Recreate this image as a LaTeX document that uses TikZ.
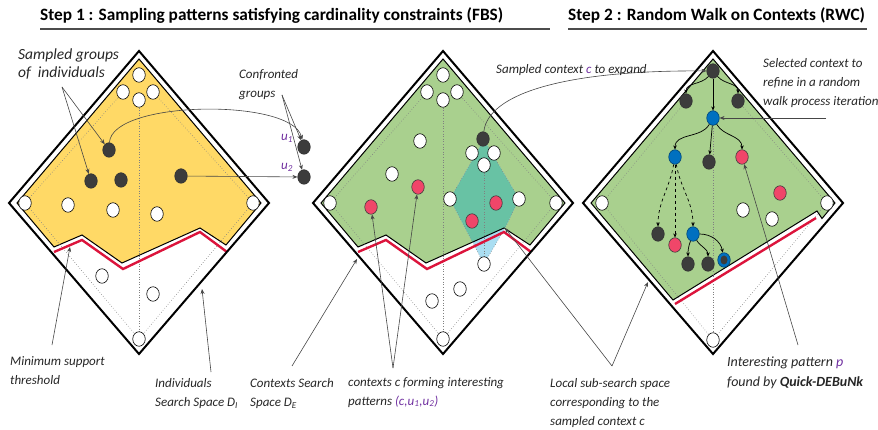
\documentclass[tikz,border=0pt]{standalone}
\usepackage{fontspec}
\setmainfont{Carlito}
\usetikzlibrary{shapes.geometric,arrows.meta}
\pgfdeclarelayer{bg}
\pgfdeclarelayer{mid}
\pgfsetlayers{bg,mid,main}
\definecolor{yel}{RGB}{255,217,102}
\definecolor{grn}{RGB}{169,208,142}
\definecolor{tealc}{RGB}{104,194,164}
\definecolor{lblue}{RGB}{170,222,242}
\definecolor{redl}{RGB}{220,20,60}
\definecolor{pnk}{RGB}{240,70,105}
\definecolor{blu}{RGB}{0,112,192}
\definecolor{drk}{RGB}{60,60,60}
\definecolor{purp}{RGB}{112,48,160}
\definecolor{arr}{RGB}{70,70,70}
\tikzset{
  nd/.style={ellipse,minimum width=12.5pt,minimum height=14.5pt,inner sep=0pt,line width=0.6pt},
  wc/.style={nd,draw=black,fill=white},
  dc/.style={nd,draw=black!80,fill=drk},
  pc/.style={nd,draw=drk,fill=pnk},
  bc/.style={nd,draw=blu!60!black,fill=blu},
  dmd/.style={draw=black,line width=2pt,line join=miter},
  region/.style={draw=black,line width=1pt,line join=miter},
  thr/.style={draw=redl,line width=2.4pt},
  dots/.style={draw=gray,dotted,line width=0.6pt},
  lbl/.style={font=\itshape\fontsize{13}{19}\selectfont,align=left,inner sep=0pt,anchor=north west,text=black!85},
  ttl/.style={font=\bfseries\fontsize{17.3}{20}\selectfont,inner sep=0pt,anchor=base west},
  uline/.style={draw=black!70,line width=1.6pt},
  lk/.style={-{Stealth[length=5pt,width=4pt]},draw=arr,line width=0.6pt},
  tarr/.style={-{Stealth[length=4pt,width=3.5pt]},draw=black,line width=0.7pt},
  tdash/.style={tarr,dashed},
}
\begin{document}
\begin{tikzpicture}[x=1pt,y=-1pt]
\useasboundingbox (0,0) rectangle (878,430);

\node[ttl] (t1) at (40,21) {Step 1 : Sampling patterns satisfying cardinality constraints (FBS)};
\node[ttl] (t2) at (568,21) {Step 2 : Random Walk on Contexts (RWC)};
\draw[uline] (40,29) -- (550,29);
\draw[uline] (568,29) -- (867,29);

% ================= diamond 1
\begin{scope}[shift={(139,0)}]
\begin{pgfonlayer}{bg}
  \filldraw[region,fill=yel] (0,59) -- (-122,203) -- (-85,247) -- (-57,235) -- (-17,263) -- (61,228) -- (87,245) -- (122,203) -- cycle;
\end{pgfonlayer}
\draw[thr] (-85,252) -- (-57,240) -- (-16,269) -- (61,232) -- (88,252);
\draw[dmd] (0,51) -- (-130,203) -- (0,354) -- (130,203) -- cycle;
\node[wc] (a0) at (0,75) {};
\node[wc] (a1) at (-16,92) {};
\node[wc] (a2) at (0,100) {};
\node[wc] (a3) at (14,92) {};
\node[wc] (aL) at (-114,203) {};
\node[wc] (aR) at (114,203) {};
\node[wc] (aB) at (0,339) {};
\node[wc] (a4) at (-71,205) {};
\node[wc] (a5) at (-26,210) {};
\node[wc] (a6) at (18,214) {};
\node[wc] (a7) at (-37,276) {};
\node[wc] (a8) at (14,294) {};
\node[dc] (ad1) at (-30,150) {};
\node[dc] (ad2) at (-48,181) {};
\node[dc] (ad3) at (-18,180) {};
\node[dc] (ad4) at (42,176) {};
\begin{pgfonlayer}{mid}
  \draw[dots] (aL) -- (a1);
  \draw[dots] (aR) -- (a3);
  \draw[dots] (a2) -- (aB);
  \draw[dots] (aL) -- (aB);
  \draw[dots] (aR) -- (aB);
\end{pgfonlayer}
\end{scope}

% confronted groups
\node[dc] (u1) at (304,147) {};
\node[dc] (u2) at (304,177) {};
\node[font=\itshape\fontsize{13}{15}\selectfont,text=purp,inner sep=0pt] (u1l) at (287,138) {u\textsubscript{1}};
\node[font=\itshape\fontsize{13}{15}\selectfont,text=purp,inner sep=0pt] (u2l) at (287,167) {u\textsubscript{2}};
\draw[lk] (ad1) .. controls (112,100) and (292,98) .. (u1);
\draw[lk] (ad4) -- (u2);

% ================= diamond 2
\begin{scope}[shift={(443,0)}]
\begin{pgfonlayer}{bg}
  \fill[grn] (0,59) -- (-122,203) -- (-85,247) -- (-57,235) -- (-17,263) -- (61,228) -- (87,245) -- (122,203) -- cycle;
  \fill[lblue] (41,140) -- (76,199) -- (62,228) -- (41,264) -- (7,199) -- cycle;
  \begin{scope}
    \clip (0,59) -- (-122,203) -- (-85,247) -- (-57,235) -- (-17,263) -- (61,228) -- (87,245) -- (122,203) -- cycle;
    \fill[tealc] (41,140) -- (76,199) -- (62,228) -- (41,264) -- (7,199) -- cycle;
  \end{scope}
  \draw[region] (0,59) -- (-122,203) -- (-85,247) -- (-57,235) -- (-17,263) -- (61,228) -- (87,245) -- (122,203) -- cycle;
\end{pgfonlayer}
\draw[thr] (-85,252) -- (-57,240) -- (-16,269) -- (61,232) -- (88,252);
\draw[dmd] (0,51) -- (-130,203) -- (0,354) -- (130,203) -- cycle;
\node[wc] (b0) at (0,75) {};
\node[wc] (b1) at (-16,92) {};
\node[wc] (b2) at (0,100) {};
\node[wc] (b3) at (14,92) {};
\node[wc] (bL) at (-113,203) {};
\node[wc] (bR) at (113,203) {};
\node[wc] (bB) at (0,339) {};
\node[wc] (b4) at (-23,141) {};
\node[wc] (b5) at (-51,174) {};
\node[pc] (bp1) at (-25,187) {};
\node[pc] (bp2) at (-72,207) {};
\node[wc] (b6) at (-11,301) {};
\node[wc] (b7) at (17,289) {};
\node[dc] (bdk) at (40,139) {};
\node[wc] (bt1) at (29,153) {};
\node[wc] (bt2) at (51,153) {};
\node[wc] (bt3) at (41,165) {};
\node[wc] (btl) at (7,199) {};
\node[wc] (btr) at (76,199) {};
\node[pc] (bp3) at (53,203) {};
\node[pc] (bp4) at (29,221) {};
\node[wc] (btb) at (41,264) {};
\coordinate (bcorner) at (62,228);
\begin{pgfonlayer}{mid}
  \draw[dots] (bL) -- (b1);
  \draw[dots] (bR) -- (b3);
  \draw[dots] (b2) -- (bB);
  \draw[dots] (bL) -- (bB);
  \draw[dots] (bR) -- (bB);
  \draw[dots] (41,140) -- (76,199) -- (62,228) -- (41,264) -- (7,199) -- cycle;
  \draw[dots] (bt3) -- (btb);
\end{pgfonlayer}
\end{scope}

% ================= diamond 3
\begin{scope}[shift={(713,0)}]
\begin{pgfonlayer}{bg}
  \filldraw[region,fill=grn] (0,59) -- (-122,203) -- (-40,300) -- (104,211) -- (109,218.5) -- (122,203) -- cycle;
\end{pgfonlayer}
\draw[thr] (-38,304) -- (103,218);
\draw[dmd] (0,51) -- (-130,203) -- (0,354) -- (130,203) -- cycle;
\node[dc] (ct) at (0,71) {};
\node[dc] (cdl) at (-27,101) {};
\node[dc] (cdr) at (25,101) {};
\node[bc] (cb1) at (0,118) {};
\node[bc] (cb2) at (-38,157) {};
\node[dc] (cdm) at (-4,162) {};
\node[pc] (cp1) at (29,157) {};
\node[pc] (cp2) at (67,193) {};
\node[wc] (cw1) at (30,210) {};
\node[wc] (cw2) at (59,219) {};
\node[wc] (cL) at (-111,203) {};
\node[wc] (cR) at (114,203) {};
\node[wc] (cB) at (0,340) {};
\node[dc] (cd3) at (-55,234) {};
\node[pc] (cp3) at (-38,245) {};
\node[bc] (cb3) at (-20,234) {};
\node[dc] (cd4) at (-25,264) {};
\node[dc] (cd5) at (-5,264) {};
\node[bc] (cring) at (11,260) {};
\node[nd,fill=drk,minimum width=7pt,minimum height=9pt] (cringin) at (cring) {};
\begin{pgfonlayer}{mid}
  \draw[dots] (cL) -- (cdl);
  \draw[dots] (cR) -- (cdr);
  \draw[dots] (ct) -- (cB);
  \draw[dots] (cL) -- (cB);
  \draw[dots] (cR) -- (cB);
\end{pgfonlayer}
\draw[tarr] (ct) to[out=-130,in=90] (cdl);
\draw[tarr] (ct) -- (cb1);
\draw[tarr] (ct) to[out=-50,in=90] (cdr);
\draw[tarr] (cb1) to[out=-120,in=90] (cb2);
\draw[tarr] (cb1) -- (cdm);
\draw[tarr] (cb1) to[out=-60,in=90] (cp1);
\draw[tdash] (cb2) to[out=-100,in=90] (cd3);
\draw[tdash] (cb2) -- (cp3);
\draw[tdash] (cb2) to[out=-80,in=90] (cb3);
\draw[tarr] (cb3) to[out=-110,in=90] (cd4);
\draw[tarr] (cb3) to[out=-60,in=90] (cd5);
\draw[tarr] (cb3) to[out=0,in=100] (cring);
\end{scope}

% sampled context curve
\draw[lk] (bdk) .. controls (488,95) and (560,70) .. (ct);

% ================= labels
\node[lbl,font=\itshape\fontsize{15.5}{17.5}\selectfont] (lsg) at (18,49) {Sampled groups\\of\ \ individuals};
\coordinate (sgv) at (62,87);
\draw[lk] (sgv) -- (ad1);
\draw[lk] (sgv) -- (ad2);

\node[lbl] (lcf) at (239,69) {Confronted\\ groups};
\coordinate (cfv) at (282,95);
\draw[lk] (cfv) -- (u1);
\draw[lk] (cfv) -- (u2);

\node[lbl] (lms) at (10,356) {Minimum support\\threshold};
\coordinate (msv) at (52,345);
\coordinate (mst) at (70,247);
\draw[lk] (msv) -- (mst);

\node[lbl] (lis) at (155,378) {Individuals\\Search Space D\textsubscript{I}};
\coordinate (isv) at (211,372);
\coordinate (ist) at (202,289);
\draw[lk] (isv) -- (ist);

\node[lbl] (lcs) at (250,378) {Contexts Search\\Space D\textsubscript{E}};
\coordinate (csv) at (292,366);
\coordinate (cst) at (357,259);
\draw[lk] (csv) -- (cst);

\node[lbl] (lcc) at (348,377) {contexts c forming interesting\\patterns {\color{purp}(c,u\textsubscript{1},u\textsubscript{2})}};
\coordinate (ccv) at (393,368);
\draw[lk] (ccv) -- (bp1);
\draw[lk] (ccv) -- (bp2);

\node[lbl] (lls) at (550,378) {Local sub-search space\\corresponding to the\\sampled context c};
\coordinate (lsv) at (612,366);
\coordinate (lst) at (648,282);
\draw[lk] (lsv) -- (bcorner);
\draw[lk] (lsv) -- (lst);

\node[lbl,font=\itshape\fontsize{14}{20}\selectfont] (lip) at (727,357) {Interesting pattern {\color{purp}p}\\found by \textbf{Quick-DEBuNk}};
\coordinate (ipv) at (798,345);
\draw[lk] (ipv) -- (cp1);

\node[lbl] (lsc) at (763,58) {Selected context to\\refine in a random\\walk process iteration};
\coordinate (scv) at (826,118);
\draw[lk] (scv) -- (cb1);

\node[lbl] (lsx) at (496,64) {Sampled context {\color{purp}c} to expand};
\end{tikzpicture}
\end{document}
